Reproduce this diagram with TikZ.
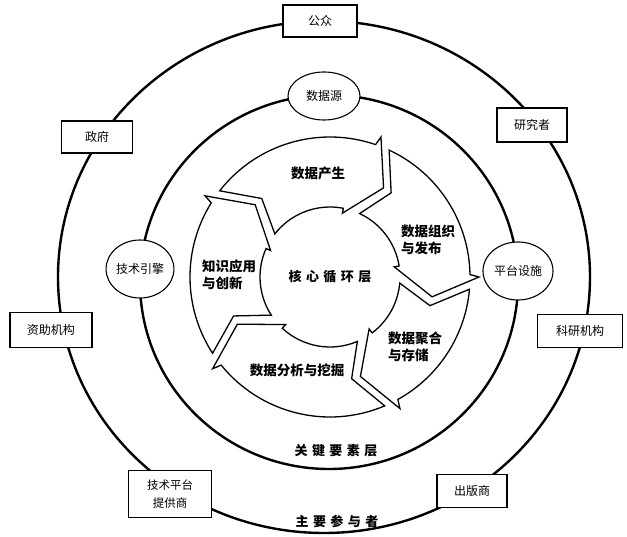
\documentclass[tikz,border=0pt]{standalone}
\usepackage{fontspec}
\setmainfont{Noto Sans CJK SC}
\usetikzlibrary{calc,shapes.geometric}
\begin{document}
\begin{tikzpicture}[x=1pt,y=1pt,
  ring/.style={line width=2.4pt},
  seg/.style={draw, line width=1.3pt, fill=white, line join=miter},
  actor/.style={draw, line width=1.1pt, fill=white, rectangle, inner sep=2pt, align=center, font=\fontsize{12}{17}\selectfont},
  factor/.style={draw, line width=1.1pt, fill=white, ellipse, inner sep=0pt, font=\fontsize{12}{14}\selectfont},
  seglabel/.style={font=\fontsize{13.5}{17}\selectfont\bfseries, align=left, inner sep=0pt},
  layer/.style={font=\fontsize{13}{15}\selectfont\bfseries, inner sep=0pt}
]
\useasboundingbox (0,0) rectangle (627,-537);
\fill[white] (0,0) rectangle (627,-537);
% rings
\draw[ring] (324,-277) ellipse[x radius=266, y radius=256];
\draw[ring] (329,-282) ellipse[x radius=189, y radius=187];
% core cycle
\coordinate (C) at (330,-277);
\foreach \t/\h in {136/59, 59/-11, -11/-73, -73/-153, 207/136}{
  \draw[seg] ($(C)+(\t+6:140)$) arc[start angle=\t+6, end angle=\h+12, radius=140]
    -- ($(C)+(\h+11:149)$) -- ($(C)+(\h:104)$) -- ($(C)+(\h+20:65)$)
    -- ($(C)+(\h+20:70)$) arc[start angle=\h+20, end angle=\t+6, radius=70]
    -- ($(C)+(\t-5:104)$) -- cycle;
}
% segment labels
\node[seglabel] (l1) at (318,-173) {数据产生};
\node[seglabel] (l2) at (428,-240) {数据组织\\与发布};
\node[seglabel] (l3) at (415,-347) {数据聚合\\与存储};
\node[seglabel] (l4) at (297,-370) {数据分析与挖掘};
\node[seglabel] (l5) at (229,-275) {知识应用\\与创新};
\node[layer] (core) at (330,-277) {核\hspace{4.5pt}心\hspace{4.5pt}循\hspace{4.5pt}环\hspace{4.5pt}层};
\node[layer] (key) at (336,-451) {关\hspace{4.5pt}键\hspace{4.5pt}要\hspace{4.5pt}素\hspace{4.5pt}层};
\node[layer] (main) at (337,-521) {主\hspace{4.5pt}要\hspace{4.5pt}参\hspace{4.5pt}与\hspace{4.5pt}者};
% key factors
\node[factor, minimum width=72pt, minimum height=48pt] (sjy) at (324,-96) {数据源};
\node[factor, minimum width=66pt, minimum height=58pt] (jsyq) at (140,-269) {技术引擎};
\node[factor, minimum width=70pt, minimum height=58pt] (ptss) at (518,-271) {平台设施};
% actors
\node[actor, minimum width=74pt, minimum height=32pt] (gz) at (320,-21) {公众};
\node[actor, minimum width=71pt, minimum height=32pt] (zf) at (97,-137) {政府};
\node[actor, minimum width=82pt, minimum height=35pt] (zzjg) at (51,-330) {资助机构};
\node[actor, minimum width=70pt, minimum height=34pt] (yjz) at (532,-125) {研究者};
\node[actor, minimum width=85pt, minimum height=33pt] (kyjg) at (580,-331) {科研机构};
\node[actor, minimum width=83pt, minimum height=47pt, font=\fontsize{11.5}{18}\selectfont] (jspt) at (170,-494) {技术平台\\提供商};
\node[actor, minimum width=70pt, minimum height=33pt] (cbs) at (472,-491) {出版商};
\end{tikzpicture}
\end{document}
